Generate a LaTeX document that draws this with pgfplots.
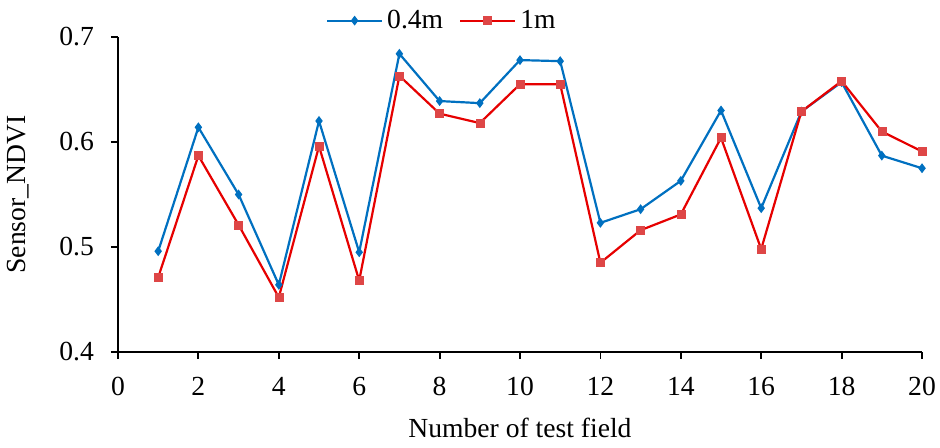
\documentclass[border=0pt]{standalone}
\usepackage{fontspec}
\setmainfont{Liberation Serif}
\usepackage{pgfplots}
\pgfplotsset{compat=1.18}
\definecolor{cblue}{RGB}{0,112,192}
\definecolor{cred}{RGB}{230,0,0}
\definecolor{cmred}{RGB}{222,70,70}
\begin{document}
\begin{tikzpicture}
\useasboundingbox (-59pt,-48pt) rectangle (411pt,176pt);
\begin{axis}[
  at={(0,0)}, anchor=south west,
  scale only axis,
  width=402pt, height=157.5pt,
  xmin=0, xmax=20, ymin=0.4, ymax=0.7,
  xtick={0,2,...,20},
  ytick={0.4,0.5,0.6,0.7},
  axis x line*=bottom, axis y line*=left,
  axis line style={black, line width=1.1pt, -},
  tick align=outside,
  major tick length=3.5pt,
  tick style={black, line width=0.9pt},
  /pgf/number format/assume math mode=true,
  yticklabel style={/pgf/number format/fixed,/pgf/number format/precision=1,/pgf/number format/fixed zerofill, xshift=-5pt},
  xticklabel style={yshift=-5.5pt},
  ticklabel style={font=\fontsize{13.8}{16}\selectfont},
  label style={font=\fontsize{13.8}{16}\selectfont},
  xlabel={Number of test field},
  ylabel={Sensor\_NDVI},
  xlabel style={at={(axis description cs:0.5,-0.2413)}, anchor=center},
  ylabel style={at={(axis description cs:-0.124,0.5)}, anchor=center},
  legend style={at={(0.404,1.052)}, anchor=center, draw=none, fill=none, legend columns=2, font=\fontsize{13.8}{16}\selectfont, /tikz/every even column/.append style={column sep=6pt}},
  legend image code/.code={\draw[mark repeat=2,mark phase=2,#1] plot coordinates {(0pt,0pt)(13.75pt,0pt)(27.5pt,0pt)};},
  legend cell align=left,
  clip=false,
]
\addplot[cblue, line width=1.1pt, mark=diamond*, mark size=2pt, mark options={fill=cblue, draw=cblue, line width=0.6pt}] coordinates {
(1,0.496) (2,0.614) (3,0.550) (4,0.464) (5,0.620) (6,0.495) (7,0.684) (8,0.639) (9,0.637) (10,0.678)
(11,0.677) (12,0.523) (13,0.536) (14,0.563) (15,0.630) (16,0.537) (17,0.629) (18,0.657) (19,0.587) (20,0.575)
};
\addlegendentry{0.4m}
\addplot[cred, line width=1.1pt, mark=square*, mark size=2pt, mark options={fill=cmred, draw=cmred, line width=0.3pt}] coordinates {
(1,0.471) (2,0.587) (3,0.521) (4,0.452) (5,0.596) (6,0.468) (7,0.663) (8,0.627) (9,0.618) (10,0.655)
(11,0.655) (12,0.485) (13,0.516) (14,0.531) (15,0.604) (16,0.498) (17,0.629) (18,0.658) (19,0.610) (20,0.591)
};
\addlegendentry{1m}
\end{axis}
\end{tikzpicture}
\end{document}
